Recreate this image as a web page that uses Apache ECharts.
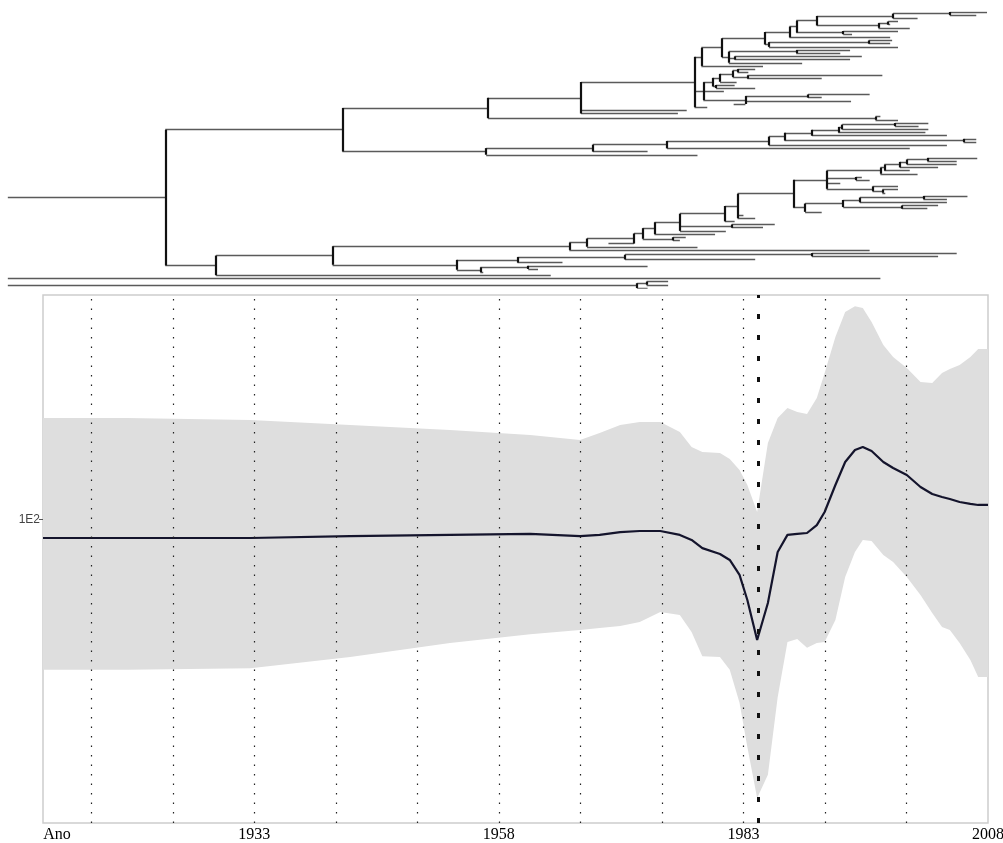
<!DOCTYPE html>
<html>
<head>
<meta charset="utf-8">
<script src="https://cdn.jsdelivr.net/npm/echarts@6/dist/echarts.min.js"></script>
<style>
  html, body { margin: 0; padding: 0; background: #ffffff; }
  #chart { width: 1003px; height: 843px; }
</style>
</head>
<body>
<div id="chart"></div>
<script>
// ---------------- Dated phylogeny (node = [year, ...children], tip = sampling year) ----------------
const treeOrigin = 1907.8;

const cladeA1 = [1956.9,
  [1966.4,
    [1978.0,
      [1978.7,
        [1980.8,
          [1985.2,
            [1987.7,
              [1988.4,
                [1990.5,
                  [1998.3, [2004.1, 2007.9, 2006.8], 2000.8],
                  [1996.8, [1997.8, 1998.8, 1998.0], 2000.0]],
                [1993.2, 1998.8, 1994.1]],
              1998.0],
            [1985.6, [1995.8, 1998.2, 1998.0], 1998.8]],
          [1981.5, [1988.4, 1993.9, 1992.9], [1982.1, 1995.1, 1993.9], 1989.0]],
        1985.0],
      [1978.9,
        [1979.9,
          [1980.6,
            [1981.9, [1982.4, 1984.2, 1983.5], [1983.4, 1997.2, 1991.0]],
            1982.3],
          [1980.2, 1982.1, 1984.2]],
        1981.0,
        [1983.2, [1989.6, 1995.9, 1991.0], 1994.0, 1982.0]],
      1979.3],
    1977.2, 1976.3],
  [1996.5, 1997.0, 1998.8]];

const cladeA2 = [1956.7,
  [1967.6,
    [1975.2,
      [1985.6,
        [1987.2,
          [1990.0,
            [1992.7, [1993.1, [1998.5, 2001.9, 2000.9], 2001.9], 2001.6],
            2003.8],
          [2005.5, 2006.8, 2006.8]],
        2003.8],
      2000.0],
    1973.2],
  1978.3];

const cladeB2 = [1965.2,
  [1967.0,
    [1971.8,
      [1972.7,
        [1973.9,
          [1976.5,
            [1981.1,
              [1982.4,
                [1988.1,
                  [1991.5,
                    [1997.0,
                      [1997.4, [1999.0, [1999.7, [2001.8, 2006.9, 2004.8], 2004.8], 2002.9], 2000.0],
                      2000.8],
                    [1994.5, 1995.1, 1995.9],
                    1992.9,
                    [1996.2, 1998.8, [1997.2, 1998.8, 1997.5]]],
                  [1989.3,
                    [1993.2, [1994.9, [2001.4, 2005.9, 2003.8], 2003.8], [1999.2, 2002.9, 2001.8]],
                    1991.0]],
                1983.0, 1984.2],
              1982.1],
            [1981.8, 1986.2, 1985.0],
            1981.2],
          1980.1],
        [1975.8, 1977.1, 1976.5]],
      1969.2],
    1978.3],
  1995.9];

const cladeB3 = [1953.7,
  [1959.9,
    [1970.9, [1990.0, 2004.8, 2002.9], 1984.2],
    1964.5],
  [1956.1,
    [1961.0, 1973.2, 1962.0],
    1956.4]];

const cladeB = [1929.1, [1941.0, cladeB2, cladeB3], 1963.3];
const mainRoot = [1923.9, [1942.0, cladeA1, cladeA2], cladeB];
const outgroupCherry = [1972.1, [1973.1, 1975.3, 1975.3], 1973.2];
const treeForest = [mainRoot, 1997.0, outgroupCherry];

// ---------------- Skyline (effective population size through time) ----------------
const skyYears = [1911.4, 1920.0, 1932.6, 1942.8, 1953.0, 1961.2, 1966.3, 1968.3, 1970.4, 1972.4,
  1974.5, 1976.5, 1977.7, 1978.8, 1980.6, 1981.6, 1982.6, 1983.4, 1984.4, 1985.5,
  1986.5, 1987.5, 1988.5, 1989.5, 1990.5, 1991.3, 1992.4, 1993.4, 1994.4, 1995.2,
  1996.1, 1997.3, 1998.3, 1999.7, 2001.1, 2002.3, 2003.3, 2004.1, 2005.1, 2006.2,
  2007.0, 2008.0];
const skyMedian = [87.9, 87.9, 87.9, 89.1, 89.8, 90.4, 89.1, 89.8, 91.6, 92.3,
  92.3, 89.8, 86.7, 81.9, 78.6, 75.4, 67.9, 57.0, 43.1, 55.8,
  79.7, 89.8, 90.4, 91.0, 96.2, 105.4, 127.3, 149.5, 162.5, 166.0,
  161.4, 149.5, 143.3, 136.5, 125.5, 119.5, 117.0, 115.4, 113.0, 111.5,
  110.7, 110.7];
const skyUpper = [203.2, 203.2, 200.5, 193.6, 186.9, 180.5, 174.3, 183.0, 193.6, 197.7,
  197.7, 184.3, 166.0, 160.3, 159.2, 152.6, 141.3, 127.3, 105.4, 170.7,
  203.2, 218.0, 212.0, 209.1, 233.7, 278.3, 357.9, 426.0, 444.0, 438.0,
  397.6, 338.4, 311.3, 288.2, 261.3, 259.5, 278.3, 286.3, 294.3, 311.3,
  329.2, 329.2];
const skyLower = [35.0, 35.0, 35.4, 38.3, 42.2, 44.9, 46.2, 46.9, 47.5, 48.9,
  52.4, 51.3, 45.6, 38.5, 38.3, 35.0, 27.8, 20.4, 14.3, 16.8,
  28.9, 42.5, 43.4, 40.8, 42.2, 42.5, 49.6, 66.9, 79.7, 86.7,
  86.1, 78.1, 74.3, 66.9, 59.0, 52.0, 47.2, 46.2, 42.2, 37.5,
  33.3, 33.3];

const gridYears = [1916.33, 1924.67, 1933, 1941.33, 1949.67, 1958, 1966.33, 1974.67, 1983, 1991.33, 1999.67];
const markedYear = 1984.5;
const yearLabels = [1911.4, 1933, 1958, 1983, 2008];
const axisTitle = 'Ano';

// ---------------- Tree layout: tips in order, internal nodes at the middle of their children ----------------
let tipCount = 0;
const hSegs = [];
const vSegs = [];
function layout(node, parentYear) {
  if (typeof node === 'number') {
    const y = tipCount++;
    hSegs.push([[parentYear, y], [node, y]]);
    return y;
  }
  const year = node[0];
  const ys = node.slice(1).map(c => layout(c, year));
  const y = (ys[0] + ys[ys.length - 1]) / 2;
  vSegs.push([[year, ys[0]], [year, ys[ys.length - 1]]]);
  hSegs.push([[parentYear, y], [year, y]]);
  return y;
}
treeForest.forEach(n => layout(n, treeOrigin));

const chart = echarts.init(document.getElementById('chart'), null, { renderer: 'canvas' });

const option = {
  animation: false,
  backgroundColor: '#ffffff',
  grid: [
    { left: 0, right: 15, top: 12, height: 276, outerBoundsMode: 'none' },
    { left: 43, right: 15, top: 295, height: 528, outerBoundsMode: 'none',
      show: true, borderColor: '#cdcdcd', borderWidth: 1.5 }
  ],
  xAxis: [
    { gridIndex: 0, type: 'value', min: 1907, max: 2008, show: false },
    {
      gridIndex: 1, type: 'value', min: yearLabels[0], max: 2008,
      axisLine: { show: false }, axisTick: { show: false }, splitLine: { show: false },
      axisLabel: {
        customValues: yearLabels,
        margin: 4,
        color: '#000',
        fontFamily: 'Liberation Serif',
        fontSize: 16,
        formatter: v => (v === yearLabels[0] ? '{ano|' + axisTitle + '}' : String(v)),
        rich: { ano: { fontFamily: 'Liberation Serif', fontSize: 16, color: '#000', padding: [0, 0, 0, 28] } }
      }
    }
  ],
  yAxis: [
    { gridIndex: 0, type: 'value', min: 0, max: tipCount - 1, inverse: true, show: false },
    {
      gridIndex: 1, type: 'log', logBase: 10, min: 12, max: 480,
      axisLine: { show: false },
      axisTick: { show: true, length: 4, lineStyle: { color: '#555' } },
      splitLine: { show: false },
      axisLabel: {
        showMinLabel: false, showMaxLabel: false,
        margin: 3, color: '#444', fontFamily: 'Liberation Sans', fontSize: 12,
        formatter: v => '1E' + Math.round(Math.log10(v))
      }
    }
  ],
  series: [
    {
      type: 'lines', coordinateSystem: 'cartesian2d', xAxisIndex: 0, yAxisIndex: 0,
      silent: true, polyline: false,
      lineStyle: { color: '#5a5a5a', width: 1.3, opacity: 1 },
      data: hSegs.map(c => ({ coords: c }))
    },
    {
      type: 'lines', coordinateSystem: 'cartesian2d', xAxisIndex: 0, yAxisIndex: 0,
      silent: true, polyline: false,
      lineStyle: { color: '#111', width: 2.2, opacity: 1 },
      data: vSegs.map(c => ({ coords: c }))
    },
    {
      // 95% interval band
      type: 'custom', xAxisIndex: 1, yAxisIndex: 1, silent: true, clip: true,
      data: [[skyYears[0], skyMedian[0]]],
      renderItem: (params, api) => {
        const top = skyYears.map((yr, i) => api.coord([yr, skyUpper[i]]));
        const bottom = skyYears.map((yr, i) => api.coord([yr, skyLower[i]])).reverse();
        return { type: 'polygon', shape: { points: top.concat(bottom) }, style: { fill: '#dedede' } };
      }
    },
    {
      type: 'line', xAxisIndex: 1, yAxisIndex: 1, silent: true,
      symbol: 'none',
      lineStyle: { color: '#14142c', width: 2.2 },
      data: skyYears.map((yr, i) => [yr, skyMedian[i]]),
      markLine: {
        silent: true, symbol: ['none', 'none'], label: { show: false },
        lineStyle: { color: '#222', width: 1.2, type: [1.5, 8] },
        data: gridYears.map(v => ({ xAxis: v })).concat([
          { xAxis: markedYear, lineStyle: { color: '#111', width: 3, type: [5, 16] } }
        ])
      }
    }
  ]
};

chart.setOption(option);
</script>
</body>
</html>
